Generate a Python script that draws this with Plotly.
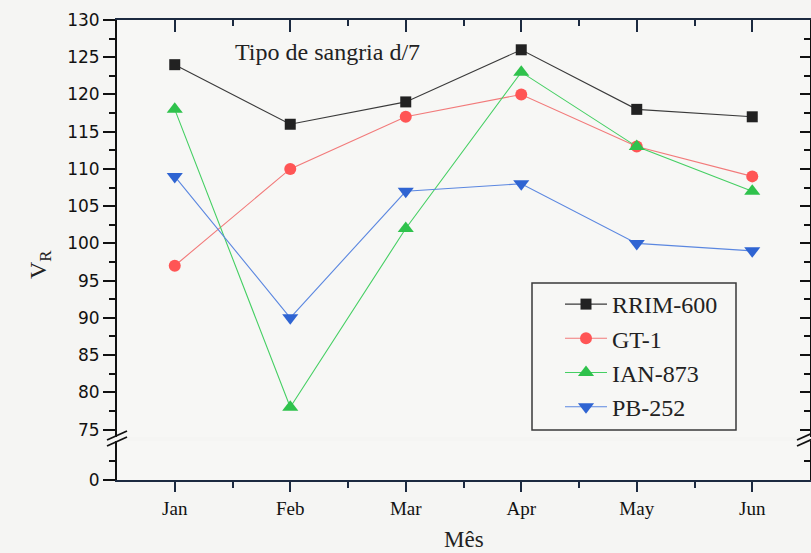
import plotly.graph_objects as go

months = ["Jan", "Feb", "Mar", "Apr", "May", "Jun"]
rrim600 = [124, 116, 119, 126, 118, 117]
gt1 = [97, 110, 117, 120, 113, 109]
ian873 = [118, 78, 102, 123, 113, 107]
pb252 = [109, 90, 107, 108, 100, 99]
upper_ticks = [75, 80, 85, 90, 95, 100, 105, 110, 115, 120, 125, 130]

xi = list(range(len(months)))

series = [
    ("RRIM-600", rrim600, "#222222", "#3a3a3a", "square", 11),
    ("GT-1", gt1, "#ff5555", "#f27a7a", "circle", 12),
    ("IAN-873", ian873, "#2fc24c", "#45cf63", "triangle-up", 14),
    ("PB-252", pb252, "#2f64d2", "#5b87e0", "triangle-down", 14),
]

fig = go.Figure()
for i, (name, vals, mc, lc, sym, sz) in enumerate(series):
    fig.add_trace(go.Scatter(
        x=xi, y=vals, name=name, mode="lines+markers",
        line=dict(color=lc, width=1.1),
        marker=dict(symbol=sym, size=sz, color=mc, line=dict(width=0)),
        legendgroup=f"g{i}", xaxis="x", yaxis="y",
    ))

# helper invisible traces to create the extra axes
for xa, ya in [("x", "y2"), ("x2", "y3"), ("x", "y4")]:
    fig.add_trace(go.Scatter(x=xi, y=[None] * len(xi), xaxis=xa, yaxis=ya,
                             showlegend=False, hoverinfo="skip", mode="markers"))

L = 117; R = 810; T = 20; B = 480
H = B - T
up_lo = (B - 437) / H
lo_hi = (B - 441) / H

axcol = "#1c2a40"
serif = "Liberation Serif"
tickfont_y = dict(family="DejaVu Sans", size=17, color="#111")
minor_x = [v + 0.5 for v in xi[:-1]]

common = dict(showgrid=False, zeroline=False, automargin=False)

def px_to_paper(xp, yp):
    return (xp - L) / (R - L), (B - yp) / H

lgx, lgy = px_to_paper(560, 282)

fig.update_layout(
    width=811, height=553,
    margin=dict(l=L, r=811 - R, t=T, b=553 - B, autoexpand=False),
    paper_bgcolor="#f5f5f3", plot_bgcolor="#f7f7f5",
    font=dict(family=serif, color="#222"),
    showlegend=True,
    legend=dict(
        x=lgx, y=lgy, xanchor="left", yanchor="top",
        bgcolor="rgba(0,0,0,0)", borderwidth=0,
        font=dict(family=serif, size=24, color="#222"),
        tracegroupgap=0, itemwidth=42,
    ),
    xaxis=dict(
        domain=[0, 1], anchor="y2", range=[-0.5, 5.5], type="linear",
        tickvals=xi, ticktext=months, ticks="outside", ticklen=10, tickwidth=1.5,
        tickcolor=axcol, showline=True, linecolor=axcol, linewidth=1.8,
        tickfont=dict(family=serif, size=19, color="#111"),
        minor=dict(tickvals=minor_x, ticks="outside", ticklen=6, tickwidth=1.5, tickcolor=axcol),
        **common,
    ),
    xaxis2=dict(
        overlaying="x", anchor="y", side="top", range=[-0.5, 5.5], type="linear",
        tickvals=xi, showticklabels=False, ticks="inside", ticklen=12, tickwidth=1.5,
        tickcolor=axcol, showline=True, linecolor=axcol, linewidth=1.8,
        minor=dict(tickvals=minor_x, ticks="inside", ticklen=6, tickwidth=1.5, tickcolor=axcol),
        **common,
    ),
    yaxis=dict(
        domain=[up_lo, 1], anchor="x", range=[74, 130],
        tickvals=upper_ticks, ticks="outside", ticklen=12, tickwidth=1.5,
        tickcolor="#111", showline=True, linecolor="#111", linewidth=1.8,
        tickfont=tickfont_y,
        minor=dict(dtick=2.5, tick0=75, ticks="outside", ticklen=6, tickwidth=1.5, tickcolor="#111"),
        **common,
    ),
    yaxis2=dict(
        domain=[0, lo_hi], anchor="x", range=[0, 2],
        tickvals=[0], ticktext=["0"], ticks="outside", ticklen=12, tickwidth=1.5,
        tickcolor="#111", showline=True, linecolor="#111", linewidth=1.8,
        tickfont=tickfont_y,
        minor=dict(tickvals=[1], ticks="outside", ticklen=6, tickwidth=1.5, tickcolor="#111"),
        **common,
    ),
    yaxis3=dict(
        overlaying="y", anchor="x", side="right", range=[74, 130],
        tickvals=upper_ticks, showticklabels=False, ticks="inside", ticklen=10, tickwidth=1.5,
        tickcolor="#111", showline=True, linecolor="#111", linewidth=1.8,
        minor=dict(dtick=2.5, tick0=75, ticks="inside", ticklen=6, tickwidth=1.5, tickcolor="#111"),
        **common,
    ),
    yaxis4=dict(
        overlaying="y2", anchor="x", side="right", range=[0, 2],
        tickvals=[0], showticklabels=False, ticks="inside", ticklen=10, tickwidth=1.5,
        tickcolor="#111", showline=True, linecolor="#111", linewidth=1.8,
        minor=dict(tickvals=[1], ticks="inside", ticklen=6, tickwidth=1.5, tickcolor="#111"),
        **common,
    ),
)

# legend frame
bx0, by0 = px_to_paper(532, 430)
bx1, by1 = px_to_paper(736, 283)
fig.add_shape(type="rect", xref="paper", yref="paper", x0=bx0, y0=by0, x1=bx1, y1=by1,
              line=dict(color="#3a3a3a", width=1.5), fillcolor="rgba(0,0,0,0)")

# axis break marks
for cx in [L, R - 3]:
    for dy in [0, 6]:
        x0, y0 = px_to_paper(cx - 10, 440 + dy)
        x1, y1 = px_to_paper(cx + 10, 431 + dy)
        fig.add_shape(type="line", xref="paper", yref="paper", x0=x0, y0=y0, x1=x1, y1=y1,
                      line=dict(color="#111", width=1.8))

ax, ay = px_to_paper(233, 52)
fig.add_annotation(text="Tipo de sangria d/7", xref="paper", yref="paper", x=ax, y=ay,
                   xanchor="left", yanchor="middle", showarrow=False,
                   font=dict(family=serif, size=24, color="#222"))
mx, my = px_to_paper(464, 539)
fig.add_annotation(text="Mês", xref="paper", yref="paper", x=mx, y=my,
                   xanchor="center", yanchor="middle", showarrow=False,
                   font=dict(family=serif, size=23, color="#222"))
vx, vy = px_to_paper(40, 265)
fig.add_annotation(text="V<sub>R</sub>", xref="paper", yref="paper", x=vx, y=vy,
                   xanchor="center", yanchor="middle", showarrow=False, textangle=-90,
                   font=dict(family=serif, size=24, color="#222"))

fig.write_html("out.html", config={"displayModeBar": False},
               post_script="document.body.style.margin='0px';document.body.style.overflow='hidden';")
